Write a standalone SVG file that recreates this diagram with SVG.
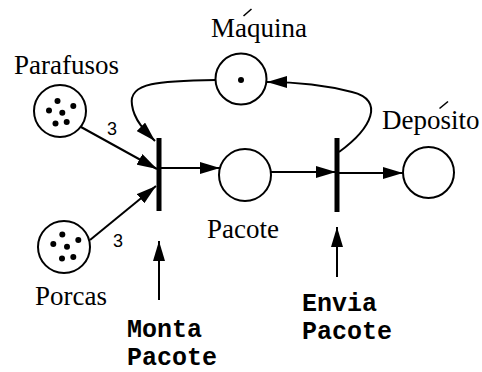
<svg xmlns="http://www.w3.org/2000/svg" width="482" height="372" viewBox="0 0 482 372">
<style>
.place{fill:#fff;stroke:#000;stroke-width:2}
.tok{fill:#000}
.bar{fill:#000}
.lbl{font-family:"Liberation Serif","Times New Roman",serif;font-size:27px;fill:#000}
.mono{font-family:"Liberation Mono","Courier New",monospace;font-size:25px;font-weight:bold;fill:#000}
.w{font-family:"Liberation Sans",Arial,sans-serif;font-size:18px;fill:#000}
.arc{fill:none;stroke:#000;stroke-width:2;marker-end:url(#ah)}
.acc{stroke:#000;stroke-width:1.6}
</style>
<defs>
<marker id="ah" viewBox="0 0 20 12" markerWidth="20" markerHeight="12" refX="20" refY="6" orient="auto" markerUnits="userSpaceOnUse">
<path d="M0,0 L20,6 L0,12 z" fill="#000"/>
</marker>
</defs>
<g id="connectors">
<path class="arc" d="M81,127 L157,169"/>
<path class="arc" d="M90,240 L156,186"/>
<path class="arc" d="M216,80 C160,81 128,82 132,105 C134,120 145,131 155,141"/>
<path class="arc" d="M161,168 L220,168"/>
<path class="arc" d="M271,172 L336,172"/>
<path class="arc" d="M339,152 C372,128 385,100 352,92 C325,85 300,82 267,82"/>
<path class="arc" d="M339,173 L403,173"/>
<path class="arc" d="M159,300 L159,241"/>
<path class="arc" d="M337,277 L337,227"/>
<text class="w" x="107" y="135">3</text>
<text class="w" x="113" y="247">3</text>
</g>
<g id="parafusos">
<circle class="place" cx="60" cy="111" r="26"/>
<circle class="tok" cx="57.5" cy="101" r="3"/>
<circle class="tok" cx="49" cy="110.5" r="3"/>
<circle class="tok" cx="73.3" cy="106" r="3"/>
<circle class="tok" cx="62.3" cy="112.7" r="3"/>
<circle class="tok" cx="55.5" cy="123.5" r="3"/>
<circle class="tok" cx="66.7" cy="122" r="3"/>
<text class="lbl" x="14" y="74">Parafusos</text>
</g>
<g id="porcas">
<circle class="place" cx="64" cy="247" r="26"/>
<circle class="tok" cx="62.3" cy="234.5" r="3"/>
<circle class="tok" cx="53.3" cy="244" r="3"/>
<circle class="tok" cx="78.3" cy="240" r="3"/>
<circle class="tok" cx="67" cy="246.7" r="3"/>
<circle class="tok" cx="62" cy="258.5" r="3"/>
<circle class="tok" cx="73.3" cy="257" r="3"/>
<text class="lbl" x="35" y="305">Porcas</text>
</g>
<g id="maquina">
<circle class="place" cx="241" cy="79" r="25.5"/>
<circle class="tok" cx="241" cy="80" r="3"/>
<text class="lbl" x="211" y="37">Maquina</text>
<line class="acc" x1="243.5" y1="16" x2="251.5" y2="9"/>
</g>
<g id="pacote">
<circle class="place" cx="245" cy="175" r="26"/>
<text class="lbl" x="207" y="238">Pacote</text>
</g>
<g id="deposito">
<circle class="place" cx="428.5" cy="172.5" r="25.5"/>
<text class="lbl" x="382" y="129">Deposito</text>
<line class="acc" x1="439.5" y1="108.5" x2="448" y2="101.5"/>
</g>
<g id="monta-pacote">
<rect class="bar" x="156.5" y="138" width="5" height="73"/>
<text class="mono" x="127" y="337">Monta</text>
<text class="mono" x="127" y="365">Pacote</text>
</g>
<g id="envia-pacote">
<rect class="bar" x="334.5" y="138" width="5" height="74"/>
<text class="mono" x="302" y="311">Envia</text>
<text class="mono" x="302" y="339">Pacote</text>
</g>
</svg>
